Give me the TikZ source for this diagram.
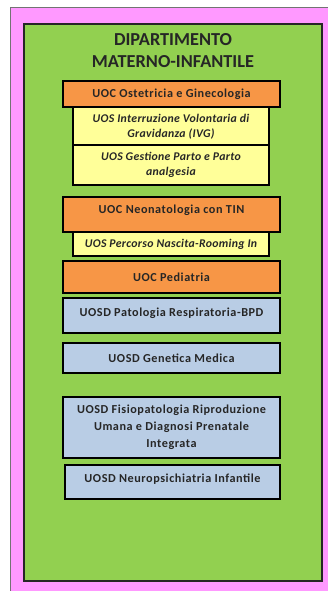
\documentclass[tikz,border=0pt]{standalone}
\usepackage{fontspec}
\setmainfont{Carlito}
\definecolor{pinkbg}{HTML}{FF99FF}
\definecolor{greenbg}{HTML}{92D050}
\definecolor{orangebox}{HTML}{F79646}
\definecolor{yellowbox}{HTML}{FFFF99}
\definecolor{bluebox}{HTML}{B9CDE5}
\newfontfamily\boxfont[LetterSpace=4.5]{Carlito}
\newfontfamily\boxifont[LetterSpace=2.5]{Carlito}
\begin{document}
\begin{tikzpicture}[x=1pt,y=1pt,
  box/.style={draw=black, line width=1.3pt, rectangle, inner sep=0pt},
  uoc/.style={box, fill=orangebox},
  uos/.style={box, fill=yellowbox},
  uosd/.style={box, fill=bluebox},
  txt/.style={font=\boxfont\fontsize{12.2}{17}\selectfont\bfseries, text=black!85, align=center, inner sep=0pt},
  itxt/.style={font=\boxifont\fontsize{11.8}{15}\selectfont\bfseries\itshape, text=black!85, align=center, inner sep=0pt}]
\useasboundingbox (0,0) rectangle (328,-591);
\clip (0,0) rectangle (328,-591);
\fill[white] (0,0) rectangle (328,-591);
\draw[draw=black!55, line width=1pt, fill=pinkbg] (10,-8) rectangle (340,-600);
\draw[draw=black!85, line width=1.5pt, fill=greenbg] (24,-24) rectangle (322,-581);
\node[font=\fontsize{18.3}{22}\selectfont\bfseries, text=black!85, align=center, inner sep=0pt] (title) at (173,-51) {DIPARTIMENTO\\MATERNO-INFANTILE};
% Ostetricia group
\path[uos] (73,-107) rectangle (269,-145);
\path[uos] (73,-145) rectangle (269,-185);
\path[uoc] (63,-81) rectangle (280,-107);
\node[txt] (ost) at (171.5,-94) {UOC Ostetricia e Ginecologia};
\node[itxt] (ivg) at (171,-127) {UOS Interruzione Volontaria di\\Gravidanza (IVG)};
\node[itxt] (ges) at (171,-164.5) {UOS Gestione Parto e Parto\\analgesia};
% Neonatologia
\path[uos] (73,-232) rectangle (269,-256);
\path[uoc] (63,-197) rectangle (280,-232);
\node[txt] (neo) at (171.5,-210) {UOC Neonatologia con TIN};
\node[itxt] (perc) at (171,-244.5) {UOS Percorso Nascita-Rooming In};
% Pediatria
\path[uoc] (63,-261) rectangle (280,-293);
\node[txt] (ped) at (171.5,-277) {UOC Pediatria};
% UOSD
\path[uosd] (63,-298) rectangle (280,-333);
\node[txt] (pat) at (171.5,-313) {UOSD Patologia Respiratoria-BPD};
\path[uosd] (63,-343) rectangle (280,-373);
\node[txt] (gen) at (171.5,-358) {UOSD Genetica Medica};
\path[uosd] (63,-397) rectangle (280,-458);
\node[txt, font=\boxfont\fontsize{12.2}{17}\selectfont\bfseries] (fis) at (171.5,-427.5) {UOSD Fisiopatologia Riproduzione\\Umana e Diagnosi Prenatale\\Integrata};
\path[uosd] (65,-465) rectangle (280,-499);
\node[txt] (neu) at (172.5,-479) {UOSD Neuropsichiatria Infantile};
\end{tikzpicture}
\end{document}
